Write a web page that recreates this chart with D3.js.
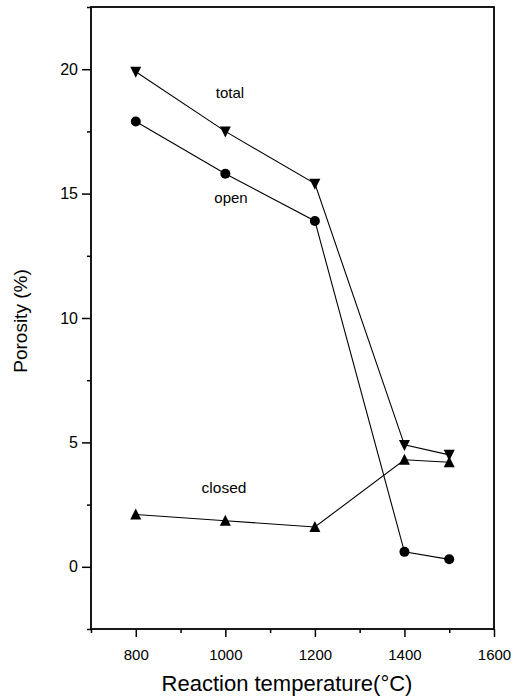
<!DOCTYPE html>
<html>
<head>
<meta charset="utf-8">
<script src="https://d3js.org/d3.v7.min.js"></script>
<style>
  body { margin: 0; background: #fff; }
  text { font-family: "Liberation Sans", Arial, sans-serif; fill: #000; }
</style>
</head>
<body>
<script>
  // temperatures (°C)
  const temps = [800, 1000, 1200, 1400, 1500];
  // porosity (%)
  const totalPorosity = [19.9, 17.5, 15.4, 4.9, 4.5];
  const openPorosity = [17.9, 15.8, 13.9, 0.6, 0.3];
  const closedPorosity = [2.1, 1.85, 1.6, 4.3, 4.2];

  const xTicks = [800, 1000, 1200, 1400, 1600];
  const xMinor = [700, 900, 1100, 1300, 1500];
  const yTicks = [0, 5, 10, 15, 20];
  const yMinor = [-2.5, 2.5, 7.5, 12.5, 17.5, 22.5];

  const width = 514, height = 699;
  const plotLeft = 91, plotRight = 494, plotTop = 7, plotBottom = 629;

  let svg = d3.select("body").append("svg")
      .attr("width", width)
      .attr("height", height);

  let x = d3.scaleLinear().domain([700, 1600]).range([plotLeft, plotRight]);
  let y = d3.scaleLinear().domain([-2.5, 22.5]).range([plotBottom, plotTop]);

  // frame
  svg.append("rect")
    .attr("x", plotLeft).attr("y", plotTop)
    .attr("width", plotRight - plotLeft).attr("height", plotBottom - plotTop)
    .attr("fill", "none").attr("stroke", "#000").attr("stroke-width", 1.8);

  // x axis
  let xAxis = svg.append("g")
    .attr("transform", `translate(0,${plotBottom})`)
    .call(d3.axisBottom(x).tickValues(xTicks).tickSize(8).tickPadding(12).tickFormat(d3.format("d")));
  xAxis.select(".domain").remove();
  xAxis.selectAll("line").attr("stroke-width", 1.5);
  xAxis.selectAll("text").attr("font-size", 15).style("font-family", "Liberation Sans, Arial, sans-serif");

  let xMinorAxis = svg.append("g")
    .attr("transform", `translate(0,${plotBottom})`)
    .call(d3.axisBottom(x).tickValues(xMinor).tickSize(4).tickFormat(""));
  xMinorAxis.select(".domain").remove();
  xMinorAxis.selectAll("line").attr("stroke-width", 1.5);

  // y axis
  let yAxis = svg.append("g")
    .attr("transform", `translate(${plotLeft},0)`)
    .call(d3.axisLeft(y).tickValues(yTicks).tickSize(9).tickPadding(4).tickFormat(d3.format("d")));
  yAxis.select(".domain").remove();
  yAxis.selectAll("line").attr("stroke-width", 1.5);
  yAxis.selectAll("text").attr("font-size", 16).style("font-family", "Liberation Sans, Arial, sans-serif");

  let yMinorAxis = svg.append("g")
    .attr("transform", `translate(${plotLeft},0)`)
    .call(d3.axisLeft(y).tickValues(yMinor).tickSize(4).tickFormat(""));
  yMinorAxis.select(".domain").remove();
  yMinorAxis.selectAll("line").attr("stroke-width", 1.5);

  // axis titles
  svg.append("text")
    .attr("x", 287)
    .attr("y", 691)
    .attr("text-anchor", "middle")
    .attr("font-size", 22)
    .text("Reaction temperature(°C)");

  svg.append("text")
    .attr("transform", `translate(27,321) rotate(-90)`)
    .attr("text-anchor", "middle")
    .attr("font-size", 19)
    .text("Porosity (%)");

  let line = d3.line()
    .x(d => x(d[0]))
    .y(d => y(d[1]));

  const series = [
    {values: totalPorosity, symbol: "down"},
    {values: openPorosity, symbol: "circle"},
    {values: closedPorosity, symbol: "up"}
  ];

  series.forEach(s => {
    let pts = temps.map((t, i) => [t, s.values[i]]);
    svg.append("path")
      .datum(pts)
      .attr("d", line)
      .attr("fill", "none")
      .attr("stroke", "#000")
      .attr("stroke-width", 1.1);

    let g = svg.append("g");
    pts.forEach(p => {
      let cx = x(p[0]), cy = y(p[1]);
      if (s.symbol === "circle") {
        g.append("circle").attr("cx", cx).attr("cy", cy).attr("r", 5).attr("fill", "#000");
      } else {
        let h = 10, w = 11;
        let pathStr = s.symbol === "up"
          ? `M${cx},${cy - h / 2 - 1}L${cx + w / 2},${cy + h / 2}L${cx - w / 2},${cy + h / 2}Z`
          : `M${cx},${cy + h / 2 + 1}L${cx + w / 2},${cy - h / 2}L${cx - w / 2},${cy - h / 2}Z`;
        g.append("path").attr("d", pathStr).attr("fill", "#000");
      }
    });
  });

  // series labels
  svg.append("text").attr("x", 230).attr("y", 98).attr("text-anchor", "middle").attr("font-size", 15).text("total");
  svg.append("text").attr("x", 231).attr("y", 203).attr("text-anchor", "middle").attr("font-size", 15).text("open");
  svg.append("text").attr("x", 224).attr("y", 493).attr("text-anchor", "middle").attr("font-size", 15.5).text("closed");
</script>
</body>
</html>
